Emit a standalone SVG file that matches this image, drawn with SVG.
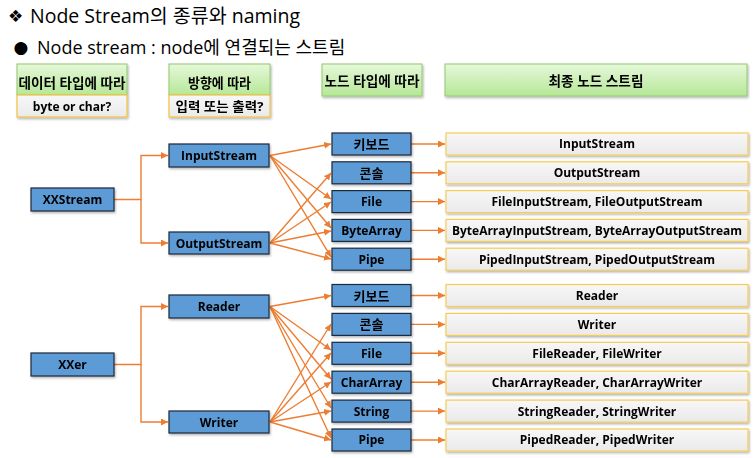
<svg xmlns="http://www.w3.org/2000/svg" width="753" height="458" viewBox="0 0 753 458">
<defs>
<linearGradient id="gGreen" x1="0" y1="0" x2="0" y2="1"><stop offset="0" stop-color="#e6f8da"/><stop offset="1" stop-color="#b6e797"/></linearGradient>
<linearGradient id="gGray" x1="0" y1="0" x2="0" y2="1"><stop offset="0" stop-color="#f7f7f7"/><stop offset="1" stop-color="#eaeaea"/></linearGradient>
<filter id="sh" x="-5%" y="-20%" width="110%" height="150%"><feDropShadow dx="1" dy="1.5" stdDeviation="0.8" flood-color="#000" flood-opacity="0.3"/></filter>
<marker id="arr" viewBox="0 0 8 8" refX="8" refY="4" markerWidth="7" markerHeight="7" markerUnits="userSpaceOnUse" orient="auto"><path d="M0,0 L8,4 L0,8 z" fill="#ed7d31"/></marker>
</defs>
<style>
.t{font-family:"Open Sans","Noto Sans CJK KR",sans-serif;fill:#000}
.b{font-weight:bold;font-size:12px;text-anchor:middle}
.k{font-size:13px}
.h{font-size:13.5px}
.hd{fill:url(#gGreen);stroke:#94c873;stroke-width:1}
.sub{fill:url(#gGray);stroke:#f2c241;stroke-width:1.2}
.nd{fill:#5b9bd5;stroke:#1e2a3a;stroke-width:1.2}
.rb{fill:url(#gGray);stroke:#f7cc55;stroke-width:1.2}
.c{fill:none;stroke:#ed7d31;stroke-width:1.4}
.sym{font-family:"DejaVu Sans",sans-serif;fill:#000}
</style>
<rect width="753" height="458" fill="#fff"/>
<text class="sym" x="8" y="22" font-size="17">❖</text>
<text class="t" x="30" y="23" font-size="19.5">Node Stream의 종류와 naming</text>
<text class="sym" x="13.5" y="53" font-size="17">●</text>
<text class="t" x="37" y="54" font-size="18">Node stream : node에 연결되는 스트림</text>

<g id="header1" filter="url(#sh)"><rect class="hd" x="17" y="64" width="110" height="31"/><rect class="sub" x="17" y="95" width="110" height="22"/>
<text class="t b h" x="72" y="87.5" textLength="107" lengthAdjust="spacingAndGlyphs">데이터 타입에 따라</text><text class="t b" x="72" y="110.5">byte or char?</text></g>
<g id="header2" filter="url(#sh)"><rect class="hd" x="169" y="64" width="101" height="31"/><rect class="sub" x="169" y="95" width="101" height="22"/>
<text class="t b h" x="219.5" y="87.5" textLength="63" lengthAdjust="spacingAndGlyphs">방향에 따라</text><text class="t b k" x="219.5" y="110.5" textLength="88" lengthAdjust="spacingAndGlyphs">입력 또는 출력?</text></g>
<g id="header3" filter="url(#sh)"><rect class="hd" x="322" y="64" width="100" height="32"/><text class="t b h" x="372" y="86" textLength="95" lengthAdjust="spacingAndGlyphs">노드 타입에 따라</text></g>
<g id="header4" filter="url(#sh)"><rect class="hd" x="445" y="64" width="302" height="32"/><text class="t b h" x="596" y="86" textLength="95" lengthAdjust="spacingAndGlyphs">최종 노드 스트림</text></g>

<g id="connectors">
<path class="c" d="M114,199.5 H141 V155.5 H168" marker-end="url(#arr)"/>
<path class="c" d="M141,199.5 V243 H168" marker-end="url(#arr)"/>
<path class="c" d="M114,364.5 H141 V306.5 H168" marker-end="url(#arr)"/>
<path class="c" d="M141,364.5 V422 H168" marker-end="url(#arr)"/>

<path class="c" d="M270,155.5 L331,144" marker-end="url(#arr)"/>
<path class="c" d="M270,155.5 L331,199" marker-end="url(#arr)"/>
<path class="c" d="M270,155.5 L331,228" marker-end="url(#arr)"/>
<path class="c" d="M270,155.5 L331,257" marker-end="url(#arr)"/>
<path class="c" d="M270,243 L331,173" marker-end="url(#arr)"/>
<path class="c" d="M270,243 L331,202" marker-end="url(#arr)"/>
<path class="c" d="M270,243 L331,231" marker-end="url(#arr)"/>
<path class="c" d="M270,243 L331,259" marker-end="url(#arr)"/>

<path class="c" d="M270,306.5 L331,295.5" marker-end="url(#arr)"/>
<path class="c" d="M270,306.5 L331,350" marker-end="url(#arr)"/>
<path class="c" d="M270,306.5 L331,379" marker-end="url(#arr)"/>
<path class="c" d="M270,306.5 L331,408" marker-end="url(#arr)"/>
<path class="c" d="M270,306.5 L331,438" marker-end="url(#arr)"/>
<path class="c" d="M270,422 L331,324" marker-end="url(#arr)"/>
<path class="c" d="M270,422 L331,353" marker-end="url(#arr)"/>
<path class="c" d="M270,422 L331,382" marker-end="url(#arr)"/>
<path class="c" d="M270,422 L331,411" marker-end="url(#arr)"/>
<path class="c" d="M270,422 L331,440" marker-end="url(#arr)"/>

<path class="c" d="M411,144 H445" marker-end="url(#arr)"/>
<path class="c" d="M411,172.8 H445" marker-end="url(#arr)"/>
<path class="c" d="M411,201.6 H445" marker-end="url(#arr)"/>
<path class="c" d="M411,230.4 H445" marker-end="url(#arr)"/>
<path class="c" d="M411,259.2 H445" marker-end="url(#arr)"/>
<path class="c" d="M411,295.5 H445" marker-end="url(#arr)"/>
<path class="c" d="M411,324.4 H445" marker-end="url(#arr)"/>
<path class="c" d="M411,353.3 H445" marker-end="url(#arr)"/>
<path class="c" d="M411,382.2 H445" marker-end="url(#arr)"/>
<path class="c" d="M411,411.1 H445" marker-end="url(#arr)"/>
<path class="c" d="M411,440 H445" marker-end="url(#arr)"/>
</g>

<g id="XXStream" filter="url(#sh)"><rect class="nd" x="31" y="188" width="83" height="23"/><text class="t b" x="72.5" y="204">XXStream</text></g>
<g id="InputStream" filter="url(#sh)"><rect class="nd" x="169" y="144" width="100" height="23"/><text class="t b" x="219" y="160">InputStream</text></g>
<g id="OutputStream" filter="url(#sh)"><rect class="nd" x="169" y="232" width="100" height="22"/><text class="t b" x="219" y="247.5">OutputStream</text></g>
<g id="XXer" filter="url(#sh)"><rect class="nd" x="31" y="353" width="83" height="23"/><text class="t b" x="72.5" y="369">XXer</text></g>
<g id="Reader" filter="url(#sh)"><rect class="nd" x="169" y="295" width="100" height="23"/><text class="t b" x="219" y="311">Reader</text></g>
<g id="Writer" filter="url(#sh)"><rect class="nd" x="169" y="411" width="100" height="22"/><text class="t b" x="219" y="426.5">Writer</text></g>

<g id="n-keyboard1" filter="url(#sh)"><rect class="nd" x="332" y="133" width="79" height="22"/><text class="t b k" x="371.5" y="149">키보드</text></g>
<g id="n-console1" filter="url(#sh)"><rect class="nd" x="332" y="161.8" width="79" height="22"/><text class="t b k" x="371.5" y="177.8">콘솔</text></g>
<g id="n-file1" filter="url(#sh)"><rect class="nd" x="332" y="190.6" width="79" height="22"/><text class="t b" x="371.5" y="206">File</text></g>
<g id="n-bytearray" filter="url(#sh)"><rect class="nd" x="332" y="219.4" width="79" height="22"/><text class="t b" x="371.5" y="234.8">ByteArray</text></g>
<g id="n-pipe1" filter="url(#sh)"><rect class="nd" x="332" y="248.2" width="79" height="22"/><text class="t b" x="371.5" y="263.6">Pipe</text></g>

<g id="n-keyboard2" filter="url(#sh)"><rect class="nd" x="332" y="284.5" width="79" height="22"/><text class="t b k" x="371.5" y="300.5">키보드</text></g>
<g id="n-console2" filter="url(#sh)"><rect class="nd" x="332" y="313.4" width="79" height="22"/><text class="t b k" x="371.5" y="329.4">콘솔</text></g>
<g id="n-file2" filter="url(#sh)"><rect class="nd" x="332" y="342.3" width="79" height="22"/><text class="t b" x="371.5" y="357.7">File</text></g>
<g id="n-chararray" filter="url(#sh)"><rect class="nd" x="332" y="371.2" width="79" height="22"/><text class="t b" x="371.5" y="386.6">CharArray</text></g>
<g id="n-string" filter="url(#sh)"><rect class="nd" x="332" y="400.1" width="79" height="22"/><text class="t b" x="371.5" y="415.5">String</text></g>
<g id="n-pipe2" filter="url(#sh)"><rect class="nd" x="332" y="429" width="79" height="22"/><text class="t b" x="371.5" y="444.4">Pipe</text></g>

<g id="r-inputstream" filter="url(#sh)"><rect class="rb" x="446" y="133" width="302" height="22"/><text class="t b" x="597" y="148.4">InputStream</text></g>
<g id="r-outputstream" filter="url(#sh)"><rect class="rb" x="446" y="161.8" width="302" height="22"/><text class="t b" x="597" y="177.2">OutputStream</text></g>
<g id="r-file1" filter="url(#sh)"><rect class="rb" x="446" y="190.6" width="302" height="22"/><text class="t b" x="597" y="206">FileInputStream, FileOutputStream</text></g>
<g id="r-bytearray" filter="url(#sh)"><rect class="rb" x="446" y="219.4" width="302" height="22"/><text class="t b" x="597" y="234.8">ByteArrayInputStream, ByteArrayOutputStream</text></g>
<g id="r-pipe1" filter="url(#sh)"><rect class="rb" x="446" y="248.2" width="302" height="22"/><text class="t b" x="597" y="263.6">PipedInputStream, PipedOutputStream</text></g>

<g id="r-reader" filter="url(#sh)"><rect class="rb" x="446" y="284.5" width="302" height="22"/><text class="t b" x="597" y="299.9">Reader</text></g>
<g id="r-writer" filter="url(#sh)"><rect class="rb" x="446" y="313.4" width="302" height="22"/><text class="t b" x="597" y="328.8">Writer</text></g>
<g id="r-file2" filter="url(#sh)"><rect class="rb" x="446" y="342.3" width="302" height="22"/><text class="t b" x="597" y="357.7">FileReader, FileWriter</text></g>
<g id="r-chararray" filter="url(#sh)"><rect class="rb" x="446" y="371.2" width="302" height="22"/><text class="t b" x="597" y="386.6">CharArrayReader, CharArrayWriter</text></g>
<g id="r-string" filter="url(#sh)"><rect class="rb" x="446" y="400.1" width="302" height="22"/><text class="t b" x="597" y="415.5">StringReader, StringWriter</text></g>
<g id="r-pipe2" filter="url(#sh)"><rect class="rb" x="446" y="429" width="302" height="22"/><text class="t b" x="597" y="444.4">PipedReader, PipedWriter</text></g>
</svg>
